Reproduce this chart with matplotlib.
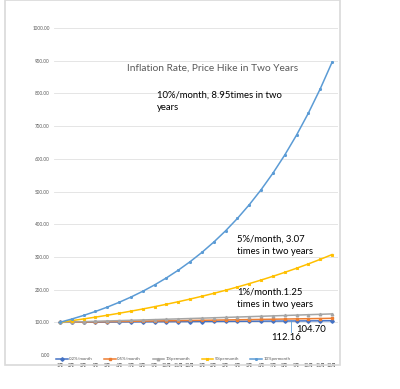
import matplotlib.pyplot as plt
from matplotlib.patches import Rectangle

plt.rcParams['font.family'] = ['Lato', 'Noto Sans CJK SC', 'DejaVu Sans']

# month labels (two years)
months = ['%d月' % m for m in range(1, 13)] * 2

# price index, start = 100
p_02 = [100.00, 100.20, 100.40, 100.60, 100.80, 101.00, 101.21, 101.41, 101.61, 101.81, 102.02, 102.22,
        102.43, 102.63, 102.84, 103.04, 103.25, 103.46, 103.66, 103.87, 104.08, 104.29, 104.50, 104.70]
p_05 = [100.00, 100.50, 101.00, 101.51, 102.02, 102.53, 103.04, 103.55, 104.07, 104.59, 105.11, 105.64,
        106.17, 106.70, 107.23, 107.77, 108.31, 108.85, 109.39, 109.94, 110.49, 111.04, 111.60, 112.16]
p_1 = [100.00, 101.00, 102.01, 103.03, 104.06, 105.10, 106.15, 107.21, 108.29, 109.37, 110.46, 111.57,
       112.68, 113.81, 114.95, 116.10, 117.26, 118.43, 119.62, 120.81, 122.02, 123.24, 124.47, 125.72]
p_5 = [100.00, 105.00, 110.25, 115.76, 121.55, 127.63, 134.01, 140.71, 147.75, 155.13, 162.89, 171.03,
       179.59, 188.56, 197.99, 207.89, 218.29, 229.20, 240.66, 252.70, 265.33, 278.60, 292.53, 307.15]
p_10 = [100.00, 110.00, 121.00, 133.10, 146.41, 161.05, 177.16, 194.87, 214.36, 235.79, 259.37, 285.31,
        313.84, 345.23, 379.75, 417.72, 459.50, 505.45, 555.99, 611.59, 672.75, 740.02, 814.03, 895.43]

series = [p_02, p_05, p_1, p_5, p_10]
labels = ['0.2%/month', '0.5%/month', '1%permonth', '5%permonth', '10%permonth']
colors = ['#4472C4', '#ED7D31', '#A5A5A5', '#FFC000', '#5B9BD5']
markers = ['D', 's', '^', 'x', '*']

fig = plt.figure(figsize=(4, 3.89), dpi=100)
# chart frame
fig.patches.append(Rectangle((5 / 400, 1 - 365 / 389), 335 / 400, 365 / 389,
                             transform=fig.transFigure, fill=False, edgecolor='#d9d9d9', lw=1.2))

ax = fig.add_axes([54 / 400, 1 - 355 / 389, 284 / 400, 327 / 389])
x = range(len(months))
for s, lab, c, m in zip(series, labels, colors, markers):
    ax.plot(x, s, color=c, lw=1.1, marker=m, ms=1.8, label=lab)

ax.set_xlim(-0.5, 23.5)
ax.set_ylim(0, 1000)
ax.set_yticks(range(0, 1001, 100))
ax.set_yticklabels(['%.2f' % v for v in range(0, 1001, 100)])
ax.set_xticks(list(x))
ax.set_xticklabels(months)
ax.tick_params(axis='both', length=0, labelsize=3.3, labelcolor='#595959')
ax.tick_params(axis='x', pad=5.5)
ax.tick_params(axis='y', pad=3)
ax.grid(axis='y', color='#e0e0e0', lw=0.6)
for sp in ax.spines.values():
    sp.set_visible(False)
ax.set_axisbelow(True)

ax.legend(loc='upper left', bbox_to_anchor=(0.0, 0.0), ncol=5, frameon=False, fontsize=3.2,
          handlelength=2.6, columnspacing=2.6, handletextpad=0.3, borderaxespad=0.1,
          labelcolor='#595959')

ax.text(0.558, 0.877, 'Inflation Rate, Price Hike in Two Years', transform=ax.transAxes,
        ha='center', va='center', fontsize=7.3, color='#595959')
ax.text(8.2, 808, '10%/month, 8.95times in two\nyears', fontsize=6.8, va='top', linespacing=1.5)
ax.text(15, 368, '5%/month, 3.07\ntimes in two years', fontsize=6.8, va='top', linespacing=1.5)
ax.text(15, 205, '1%/month.1.25\ntimes in two years', fontsize=6.8, va='top', linespacing=1.5)
ax.text(17.9, 55, '112.16', fontsize=6.8, va='center', ha='left')
ax.text(20.0, 77, '104.70', fontsize=6.8, va='center', ha='left')
ax.plot([19.5, 19.5], [70, 107], color='#5B9BD5', lw=0.6)

fig.savefig('out.png', dpi=100)
